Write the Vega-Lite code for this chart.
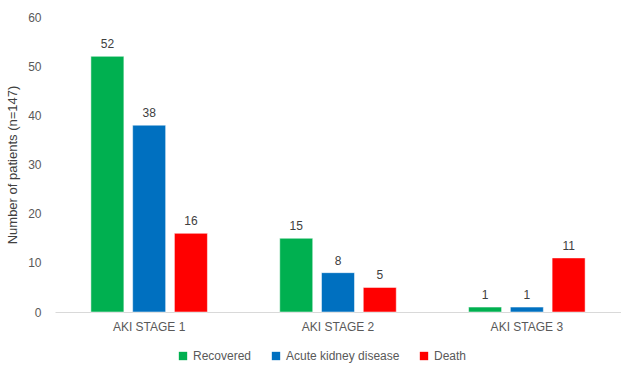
{
  "$schema": "https://vega.github.io/schema/vega-lite/v6.json",
  "width": 566,
  "height": 295,
  "autosize": {"type": "none"},
  "padding": {"left": 55, "top": 17, "right": 0, "bottom": 56},
  "background": "white",
  "config": {
    "view": {"stroke": null},
    "font": "Liberation Sans",
    "axis": {"labelFont": "Liberation Sans", "titleFont": "Liberation Sans", "labelColor": "#595959", "titleColor": "#404040"},
    "legend": {"labelFont": "Liberation Sans"}
  },
  "data": {
    "values": [
      {"stage": "AKI STAGE 1", "outcome": "Recovered", "n": 52},
      {"stage": "AKI STAGE 1", "outcome": "Acute kidney disease", "n": 38},
      {"stage": "AKI STAGE 1", "outcome": "Death", "n": 16},
      {"stage": "AKI STAGE 2", "outcome": "Recovered", "n": 15},
      {"stage": "AKI STAGE 2", "outcome": "Acute kidney disease", "n": 8},
      {"stage": "AKI STAGE 2", "outcome": "Death", "n": 5},
      {"stage": "AKI STAGE 3", "outcome": "Recovered", "n": 1},
      {"stage": "AKI STAGE 3", "outcome": "Acute kidney disease", "n": 1},
      {"stage": "AKI STAGE 3", "outcome": "Death", "n": 11}
    ]
  },
  "encoding": {
    "x": {"field": "stage", "type": "nominal", "title": null,
      "scale": {"paddingInner": 0.383, "paddingOuter": 0.19},
      "axis": {"labelAngle": 0, "ticks": false, "domainColor": "#d9d9d9", "labelFontSize": 12, "labelPadding": 9}},
    "xOffset": {"field": "outcome", "type": "nominal",
      "sort": ["Recovered", "Acute kidney disease", "Death"],
      "scale": {"paddingInner": 0.21, "paddingOuter": 0}},
    "y": {"field": "n", "type": "quantitative", "title": "Number of patients (n=147)",
      "scale": {"domain": [0, 60]},
      "axis": {"values": [0, 10, 20, 30, 40, 50, 60], "grid": false, "domain": false, "ticks": false, "labelFontSize": 12, "labelPadding": 14, "titleFontSize": 13, "titleFontWeight": "normal", "titlePadding": 8}}
  },
  "layer": [
    {
      "mark": {"type": "bar", "stroke": "white", "strokeWidth": 0.5},
      "encoding": {
        "color": {"field": "outcome", "type": "nominal",
          "sort": ["Recovered", "Acute kidney disease", "Death"],
          "scale": {"domain": ["Recovered", "Acute kidney disease", "Death"], "range": ["#00B050", "#0070C0", "#FF0000"]},
          "legend": {"title": null, "orient": "none", "legendX": 122, "legendY": 333, "direction": "horizontal", "symbolType": "square", "symbolSize": 70, "symbolStrokeWidth": 0, "labelFontSize": 12, "labelColor": "#595959", "columnPadding": 18}}
      }
    },
    {
      "mark": {"type": "text", "dy": -12, "fontSize": 12, "color": "#404040"},
      "encoding": {"text": {"field": "n", "type": "quantitative"}}
    }
  ]
}
